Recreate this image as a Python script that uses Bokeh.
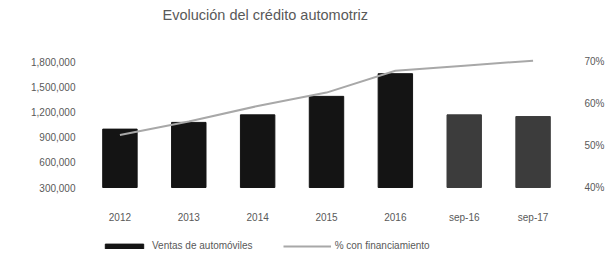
from bokeh.plotting import figure
from bokeh.models import (ColumnDataSource, LinearAxis, Range1d, FixedTicker,
                          NumeralTickFormatter, Legend, LegendItem, Label)
from bokeh.embed import file_html
from bokeh.resources import INLINE

categories = ["2012", "2013", "2014", "2015", "2016", "sep-16", "sep-17"]
ventas = [995000, 1075000, 1165000, 1385000, 1655000, 1165000, 1145000]
pct_financiamiento = [0.525, 0.557, 0.594, 0.626, 0.678, 0.690, 0.702]
bar_colors = ["#141414", "#141414", "#141414", "#141414", "#141414", "#3c3c3c", "#3c3c3c"]
left_ticks = [300000, 600000, 900000, 1200000, 1500000, 1800000]
right_ticks = [0.40, 0.50, 0.60, 0.70]
title_text = "Evolución del crédito automotriz"

FONT = "Liberation Sans"
TXT = "#595959"

# layout (pixels): whole height is the frame; value axis spans y=61..187
H = 262
TOP_PX, AXIS_PX = 61, 126
BOT_PX = H - TOP_PX - AXIS_PX
lmin, lmax = left_ticks[0], left_ticks[-1]
rmin, rmax = right_ticks[0], right_ticks[-1]
lk = (lmax - lmin) / AXIS_PX
rk = (rmax - rmin) / AXIS_PX

src = ColumnDataSource(dict(cat=categories, v=ventas, p=pct_financiamiento, c=bar_colors,
                            base=[lmin] * len(categories)))

p = figure(x_range=categories, y_range=Range1d(lmin - BOT_PX * lk, lmax + TOP_PX * lk),
           frame_width=482, frame_height=H, output_backend="svg", toolbar_location=None,
           min_border_left=85, min_border_right=37, min_border_top=0, min_border_bottom=0)
p.outline_line_color = None
p.xgrid.grid_line_color = None
p.ygrid.grid_line_color = None

bars = p.vbar(x="cat", top="v", bottom="base", width=0.5, color="c", source=src)

p.extra_y_ranges = {"pct": Range1d(rmin - BOT_PX * rk, rmax + TOP_PX * rk)}
line = p.line(x="cat", y="p", y_range_name="pct", line_color="#a8a8a8", line_width=2, source=src)

for ax in [p.xaxis[0], p.yaxis[0]]:
    ax.axis_line_color = None
    ax.major_tick_line_color = None
    ax.minor_tick_line_color = None
    ax.major_label_text_font = FONT
    ax.major_label_text_font_size = "10px"
    ax.major_label_text_color = TXT
p.yaxis[0].ticker = FixedTicker(ticks=left_ticks)
p.yaxis[0].formatter = NumeralTickFormatter(format="0,0")
p.yaxis[0].major_label_standoff = 4
p.xaxis[0].fixed_location = lmin
p.xaxis[0].major_label_standoff = 18

rax = LinearAxis(y_range_name="pct", ticker=FixedTicker(ticks=right_ticks),
                 formatter=NumeralTickFormatter(format="0%"))
rax.axis_line_color = None
rax.major_tick_line_color = None
rax.minor_tick_line_color = None
rax.major_label_text_font = FONT
rax.major_label_text_font_size = "10px"
rax.major_label_text_color = TXT
rax.major_label_standoff = 11
p.add_layout(rax, "right")

title = Label(text=title_text, x=77, y=H - 14, x_units="screen", y_units="screen",
              text_font=FONT, text_font_size="14.5px", text_color=TXT,
              text_baseline="middle", text_align="left")
p.add_layout(title)

legend = Legend(items=[LegendItem(label="Ventas de automóviles", renderers=[bars]),
                       LegendItem(label="% con financiamiento", renderers=[line])],
                location=(15, 11), orientation="horizontal",
                label_text_font=FONT, label_text_font_size="10px", label_text_color=TXT,
                glyph_width=48, glyph_height=6, spacing=30, padding=2, margin=0,
                label_standoff=4, border_line_color=None, background_fill_alpha=0)
p.add_layout(legend, "center")

open("out.html", "w").write(file_html(p, INLINE))
